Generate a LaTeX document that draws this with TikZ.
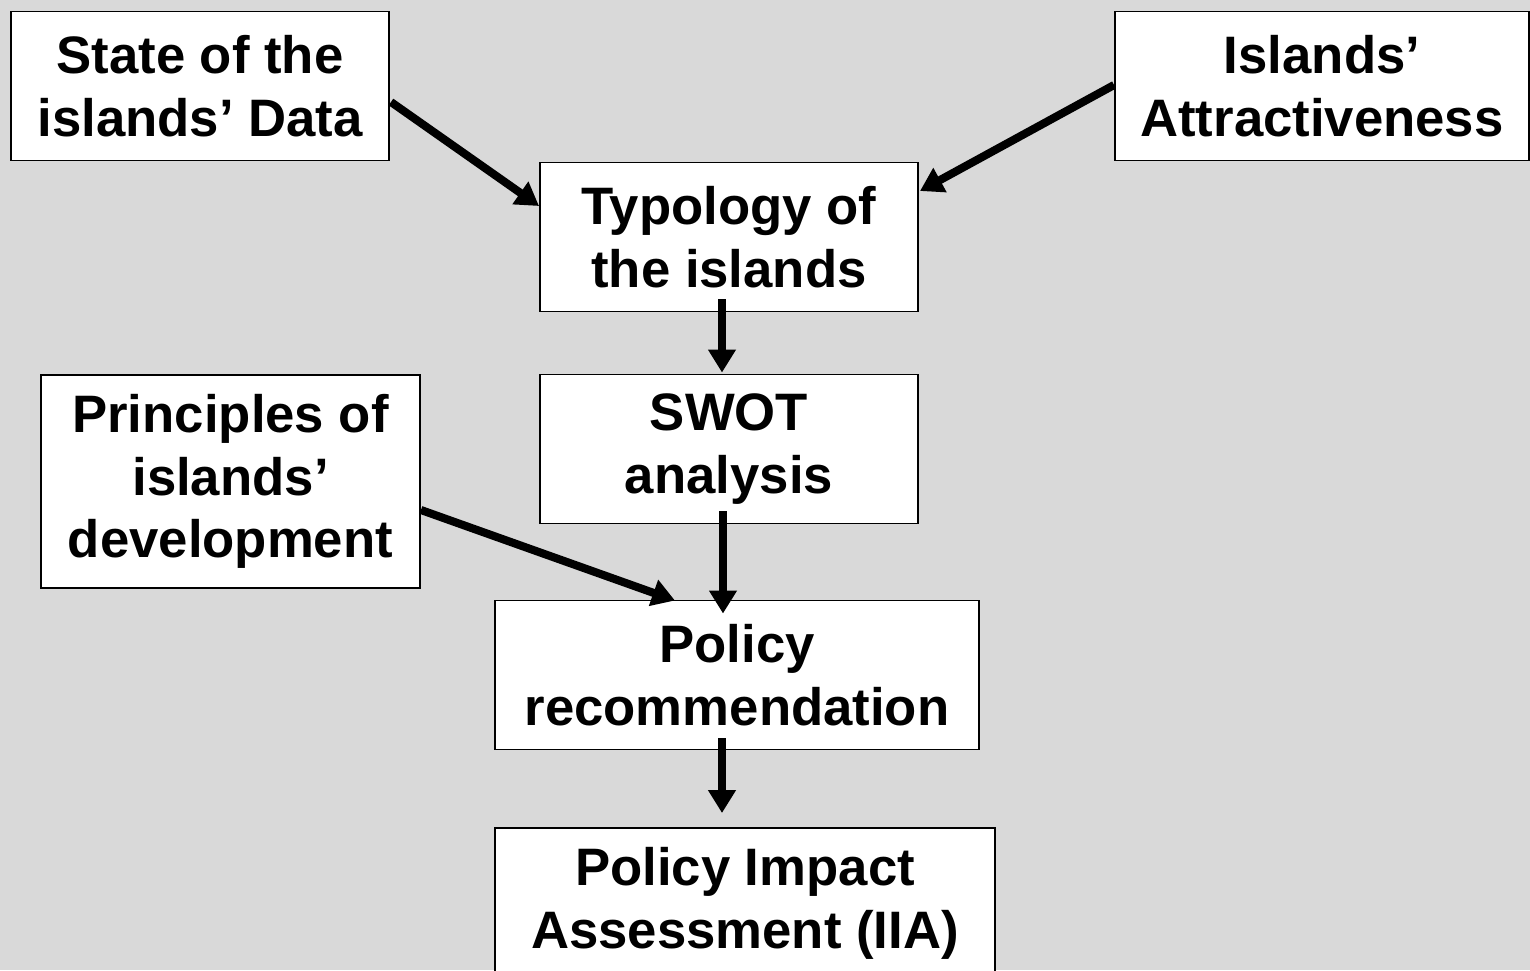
\documentclass[tikz,border=0pt]{standalone}
\usepackage{fontspec}
\setmainfont{Liberation Sans}
\usetikzlibrary{arrows.meta,calc}
\definecolor{bgc}{HTML}{D9D9D9}
\begin{document}
\begin{tikzpicture}[x=0.02cm,y=-0.02cm,
  bx/.style 2 args={draw=black, line width=1.1pt, fill=white, inner sep=0pt,
     minimum width=#1*0.02cm, minimum height=#2*0.02cm, align=center,
     font=\fontsize{30}{35.7}\selectfont\bfseries},
  arr/.style={line width=4.6pt, -{Triangle[length=13pt,width=15pt]}}]
\fill[bgc] (0,0) rectangle (1530,970);
\useasboundingbox (0,0) rectangle (1530,970);
\node[bx={378}{149}] (state) at (200,86) {State of the\\islands’ Data};
\node[bx={414}{149}] (attr) at (1322,86) {Islands’\\Attractiveness};
\node[bx={378}{149}] (typ) at (729,237) {Typology of\\the islands};
\node[bx={378}{149}] (swot) at (729,449) {SWOT\\analysis};
\node[bx={379}{213}] (princ) at (230.5,481.5) {Principles of\\islands’\\development};
\node[bx={484}{149}] (pr) at (737,675) {Policy\\recommendation};
\node[bx={500}{150}] (imp) at (745,903) {Policy Impact\\Assessment (IIA)};
\draw[arr] ($(state.east)+(1,16)$) -- ($(typ.west)+(0,-31)$);
\draw[arr] ($(attr.west)+(0,-1)$) -- ($(typ.east)+(1,-46)$);
\draw[arr] ($(typ.south)+(-7,-13)$) -- ($(swot.north)+(-7,-1)$);
\draw[arr] ($(swot.south)+(-6,-13)$) -- ($(pr.north)+(-14,14)$);
\draw[arr] ($(princ.east)+(0,28.5)$) -- ($(pr.north)+(-62,1)$);
\draw[arr] ($(pr.south)+(-15,-12)$) -- ($(imp.north)+(-23,-14)$);
\end{tikzpicture}
\end{document}
